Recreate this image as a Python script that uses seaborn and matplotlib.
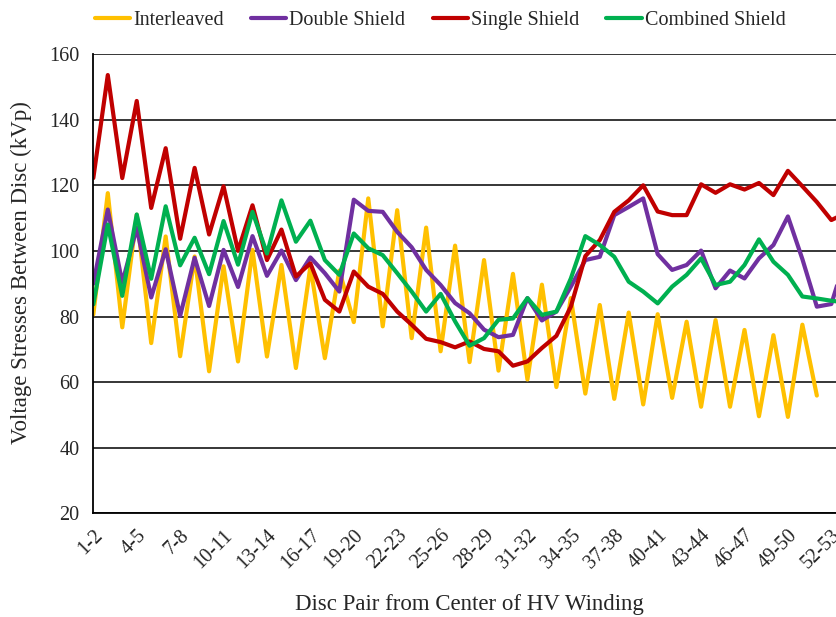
import pandas as pd
import matplotlib
matplotlib.use("Agg")
import matplotlib.pyplot as plt
import seaborn as sns

# Disc pairs on the x axis (1-2 ... 53-54)
disc_pairs = [f"{k}-{k + 1}" for k in range(1, 54)]

# Voltage stress between discs (kVp)
interleaved = [80.6, 117.6, 76.7, 111.0, 71.9, 104.4, 67.9, 98.3, 63.3, 95.3,
               66.3, 100.3, 67.8, 95.7, 64.3, 95.2, 67.3, 94.0, 78.3, 116.0,
               77.0, 112.4, 73.4, 107.1, 69.4, 101.6, 66.1, 97.2, 63.5, 93.0,
               60.8, 89.7, 58.5, 85.6, 56.5, 83.5, 54.9, 81.2, 53.2, 80.7,
               55.2, 78.4, 52.5, 78.9, 52.5, 75.9, 49.6, 74.3, 49.4, 77.5,
               55.9]
double_shield = [90.0, 112.6, 90.3, 107.0, 85.8, 100.5, 80.2, 97.9, 83.2, 100.3,
                 89.0, 104.5, 92.4, 100.1, 91.1, 98.0, 93.2, 87.6, 115.6, 112.2,
                 111.9, 105.8, 101.1, 94.2, 89.6, 84.1, 81.0, 76.0, 73.7, 74.4,
                 85.6, 78.8, 81.5, 89.1, 97.2, 98.2, 110.9, 113.4, 116.0, 99.0,
                 94.2, 95.7, 100.1, 88.6, 94.0, 91.6, 97.7, 101.8, 110.5, 97.5,
                 83.0, 83.8, 98.0]
single_shield = [122.2, 153.6, 122.2, 145.7, 113.1, 131.3, 103.7, 125.3, 105.0, 119.7,
                 100.0, 113.9, 97.2, 106.5, 92.2, 96.2, 85.1, 81.5, 93.7, 89.1,
                 86.9, 81.5, 77.5, 73.2, 72.2, 70.6, 72.4, 70.1, 69.4, 65.0,
                 66.3, 70.4, 74.1, 83.0, 98.4, 103.3, 111.9, 115.4, 120.0, 112.0,
                 110.9, 110.9, 120.3, 117.7, 120.3, 118.7, 120.7, 117.0, 124.4, 119.7,
                 114.9, 109.4, 111.5]
combined_shield = [83.7, 108.0, 86.3, 111.1, 91.5, 113.6, 95.6, 104.0, 92.9, 109.1,
                   95.8, 111.9, 99.2, 115.4, 102.8, 109.2, 97.2, 92.7, 105.3, 100.8,
                   98.7, 93.2, 87.6, 81.5, 86.9, 78.5, 71.1, 73.4, 79.0, 79.4,
                   85.6, 80.5, 81.5, 91.6, 104.5, 101.8, 98.2, 90.6, 87.6, 84.0,
                   89.1, 92.7, 97.7, 89.6, 90.6, 95.7, 103.5, 96.7, 92.7, 86.1,
                   85.5, 84.8, 84.3]

series_names = ["Interleaved", "Double Shield", "Single Shield", "Combined Shield"]
series_colors = ["#FFC000", "#7030A0", "#C00000", "#00B050"]

sns.set_style("white")
plt.rcParams['font.family'] = ['Liberation Serif', 'DejaVu Serif']

# long format table for seaborn
rows = []
for name, vals in zip(series_names, [interleaved, double_shield, single_shield, combined_shield]):
    for i, v in enumerate(vals):
        rows.append({"pos": i, "pair": disc_pairs[i], "stress": v, "design": name})
df = pd.DataFrame(rows)

fig = plt.figure(figsize=(8.37, 6.17), dpi=100)
# plot area runs a bit past the right edge of the picture, as in the original
ax = fig.add_axes([0.1115, 0.168, 0.899, 0.7444])

sns.lineplot(data=df, x="pos", y="stress", hue="design", hue_order=series_names,
             palette=series_colors, linewidth=3, sort=False, ax=ax)

ax.set_xlim(0, len(disc_pairs) - 1)
ax.set_ylim(20, 160)
ax.set_yticks(range(20, 161, 20))
ax.set_xticks(range(0, len(disc_pairs), 3))
ax.set_xticklabels(disc_pairs[::3], rotation=45, ha='right', rotation_mode='anchor')

ax.yaxis.grid(True, color='black', linewidth=1.1)
ax.xaxis.grid(False)
ax.set_axisbelow(True)
for side in ['top', 'right']:
    ax.spines[side].set_visible(False)
for side in ['left', 'bottom']:
    ax.spines[side].set_color('black')
    ax.spines[side].set_linewidth(1.3)

ax.tick_params(axis='x', direction='in', length=5, width=1.2, color='black',
               labelsize=14.5, pad=9)
ax.tick_params(axis='y', length=0, labelsize=14.5, pad=10)

ax.set_xlabel("Disc Pair from Center of HV Winding", fontsize=16.5)
ax.set_ylabel("Voltage Stresses Between Disc (kVp)", fontsize=16.5)
ax.xaxis.label.set_va('center')
ax.xaxis.set_label_coords(0.5, -0.1975)
ax.yaxis.label.set_va('center')
ax.yaxis.set_label_coords(-0.095, 0.525)

handles, labels = ax.get_legend_handles_labels()
ax.get_legend().remove()
fig.legend(handles, labels, loc='center', bbox_to_anchor=(0.526, 0.967), ncol=4,
           frameon=False, fontsize=14.5, handlelength=1.75, handletextpad=0.15,
           columnspacing=1.35)

plt.savefig("out.png", dpi=100)
